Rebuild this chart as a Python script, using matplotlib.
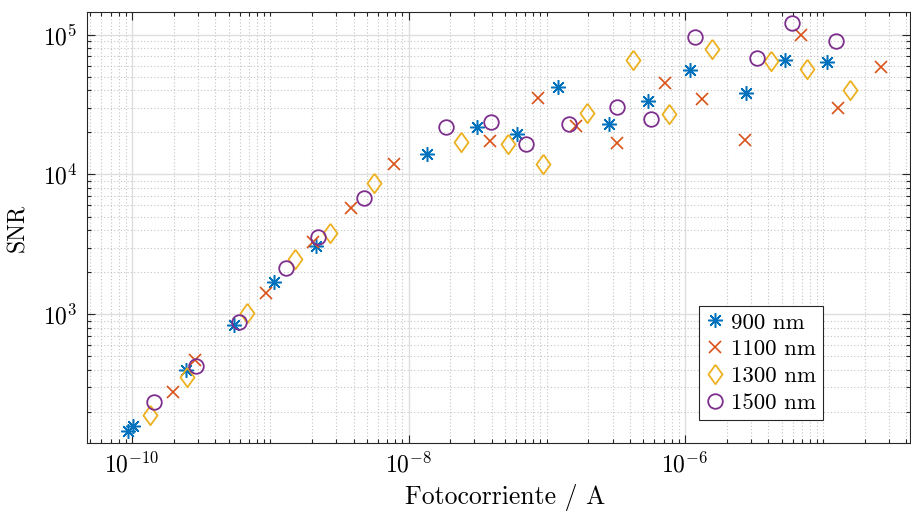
import numpy as np
import matplotlib
matplotlib.use("Agg")
import matplotlib.pyplot as plt
from matplotlib.ticker import LogLocator, FuncFormatter, NullFormatter

plt.rcParams["font.family"] = "cmr10"
plt.rcParams["mathtext.fontset"] = "cm"
plt.rcParams["axes.formatter.use_mathtext"] = True

# photocurrent (A) and SNR for each wavelength
x_900 = [9.28e-11, 1.02e-10, 2.46e-10, 5.47e-10, 1.064e-9, 2.14e-9, 1.37e-8, 3.15e-8,
         6.06e-8, 1.212e-7, 2.806e-7, 5.43e-7, 1.092e-6, 2.748e-6, 5.29e-6, 1.064e-5]
snr_900 = [147, 159, 400, 839, 1710, 3095, 14020, 21980,
           19490, 42050, 22860, 33730, 55900, 38080, 65920, 63480]

x_1100 = [1.99e-10, 2.856e-10, 9.32e-10, 2.048e-9, 3.858e-9, 7.816e-9, 3.886e-8, 8.6e-8,
          1.62e-7, 3.238e-7, 7.166e-7, 1.327e-6, 2.703e-6, 6.9e-6, 1.285e-5, 2.617e-5]
snr_1100 = [279, 471, 1413, 3307, 5760, 11890, 17450, 35080,
            22230, 16880, 44910, 34510, 17650, 99500, 30050, 59030]

x_1300 = [1.356e-10, 2.487e-10, 6.755e-10, 1.51e-9, 2.705e-9, 5.6e-9, 2.397e-8, 5.22e-8,
          9.44e-8, 1.945e-7, 4.227e-7, 7.66e-7, 1.576e-6, 4.19e-6, 7.59e-6, 1.561e-5]
snr_1300 = [190, 353, 1027, 2475, 3796, 8650, 16990, 16530,
            11890, 27400, 65920, 27220, 79030, 64840, 57110, 40220]

x_1500 = [1.442e-10, 2.89e-10, 5.973e-10, 1.293e-9, 2.226e-9, 4.742e-9, 1.858e-8, 3.95e-8,
          7.04e-8, 1.448e-7, 3.238e-7, 5.72e-7, 1.187e-6, 3.317e-6, 5.94e-6, 1.236e-5]
snr_1500 = [236, 427, 885, 2154, 3554, 6823, 21760, 23860,
            16530, 22860, 30250, 24950, 96760, 68470, 121800, 89700]

labels = ["900 nm", "1100 nm", "1300 nm", "1500 nm"]

fig = plt.figure(figsize=(9.12, 5.12), dpi=100)
ax = fig.add_axes([0.0954, 0.1348, 0.9024, 0.8418])

diamond = [(0, 1), (0.72, 0), (0, -1), (-0.72, 0), (0, 1)]
ax.plot(x_900, snr_900, linestyle="none", marker=(8, 2, 0), ms=10.5,
        mec="#0072BD", mew=1.1, label=labels[0])
ax.plot(x_1100, snr_1100, linestyle="none", marker="x", ms=9,
        mec="#D95319", mew=1.2, label=labels[1])
ax.plot(x_1300, snr_1300, linestyle="none", marker=diamond, ms=14,
        mec="#EDB120", mfc="none", mew=1.3, label=labels[2])
ax.plot(x_1500, snr_1500, linestyle="none", marker="o", ms=10.5,
        mec="#7E2F8E", mfc="none", mew=1.3, label=labels[3])

ax.set_xscale("log")
ax.set_yscale("log")
ax.set_xticks([1e-10, 1e-8, 1e-6])
ax.set_yticks([1e3, 1e4, 1e5])
ax.set_xlim(4.725e-11, 4.24e-5)
ax.set_ylim(120, 1.453e5)
ax.xaxis.set_minor_locator(LogLocator(base=10, subs=np.arange(1, 10), numticks=100))
ax.yaxis.set_minor_locator(LogLocator(base=10, subs=np.arange(1, 10), numticks=100))
fmt = FuncFormatter(lambda v, p: r"$10^{%d}$" % int(round(np.log10(v))))
ax.xaxis.set_major_formatter(fmt)
ax.yaxis.set_major_formatter(fmt)
ax.xaxis.set_minor_formatter(NullFormatter())
ax.yaxis.set_minor_formatter(NullFormatter())

ax.grid(True, which="major", color="#dedede", lw=1.0, ls="-")
ax.grid(True, which="minor", color="#c4c4c4", lw=0.8, ls=(0, (1, 2)))
ax.set_axisbelow(True)

ax.tick_params(which="both", direction="in", top=True, right=True,
               color="#262626", width=0.8, labelsize=17, pad=7)
ax.tick_params(which="major", length=6)
ax.tick_params(which="minor", length=3)
for s in ax.spines.values():
    s.set_color("#262626")
    s.set_linewidth(0.8)

ax.set_xlabel("Fotocorriente / A", fontsize=18.5, labelpad=4)
ax.xaxis.set_label_coords(0.508, -0.095)
ax.set_ylabel("SNR", fontsize=17, labelpad=10)

leg = ax.legend(loc="lower right", bbox_to_anchor=(0.894, 0.053), borderaxespad=0,
                fontsize=16.5, frameon=True, fancybox=False, framealpha=1,
                edgecolor="#262626", handlelength=0.8, handletextpad=0.3,
                borderpad=0.3, labelspacing=0.3)
leg.get_frame().set_linewidth(0.8)

fig.savefig("out.png", dpi=100)
